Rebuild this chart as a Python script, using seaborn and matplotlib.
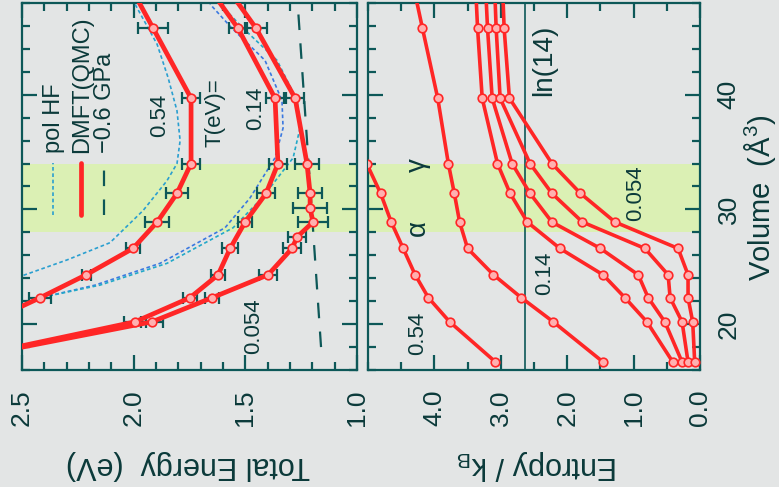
import matplotlib
matplotlib.use("Agg")
import matplotlib.pyplot as plt
from matplotlib.ticker import MultipleLocator, FormatStrFormatter
import pandas as pd
import seaborn as sns

# ---------------- data ----------------
# Total energy (eV) vs volume (A^3), DMFT(QMC), three temperatures
vol_T054 = [52.0, 45.8, 39.7, 34.0, 31.4, 30.1, 28.9, 27.6, 26.6, 24.3, 22.3, 20.2, 16.7]
energy_T054 = [1.68, 1.452, 1.277, 1.224, 1.210, 1.210, 1.197, 1.268, 1.291, 1.398, 1.649, 1.918, 2.84]
err_T054 = [0, 0.05, 0.04, 0.054, 0.054, 0.077, 0.067, 0.04, 0.04, 0.04, 0.03, 0.05, 0]

vol_T14 = [52.0, 45.8, 39.7, 34.0, 31.4, 28.9, 26.6, 24.3, 22.3, 20.2, 16.7]
energy_T14 = [1.76, 1.533, 1.367, 1.354, 1.407, 1.501, 1.568, 1.622, 1.748, 1.994, 2.84]
err_T14 = [0, 0.04, 0.04, 0.04, 0.04, 0.03, 0.035, 0.03, 0.03, 0.05, 0]

vol_T54 = [52.0, 45.8, 39.7, 34.0, 31.4, 28.9, 26.6, 24.3, 22.3, 20.2]
energy_T54 = [2.086, 1.913, 1.743, 1.743, 1.806, 1.895, 2.003, 2.213, 2.419, 2.65]
err_T54 = [0, 0.067, 0.04, 0.04, 0.05, 0.055, 0.03, 0.02, 0.05, 0]

# polarized Hartree-Fock curves
vol_hf1 = [47.9, 44.4, 41.5, 38.6, 36.0, 34.0, 32.5, 29.9, 27.1, 25.6, 24.3, 23.5]
energy_hf1 = [1.994, 1.895, 1.846, 1.806, 1.792, 1.806, 1.851, 1.958, 2.106, 2.298, 2.487, 2.60]
vol_hf2 = [47.9, 45.8, 43.0, 39.5, 37.1, 34.5, 31.0, 28.4, 25.3, 23.4, 22.35]
energy_hf2 = [1.658, 1.560, 1.412, 1.336, 1.331, 1.367, 1.479, 1.591, 1.882, 2.173, 2.406]
vol_hf3 = [47.9, 45.8, 43.0, 39.5, 37.1, 34.5, 31.0, 28.4, 25.3, 23.4, 22.35]
energy_hf3 = [1.613, 1.510, 1.358, 1.268, 1.255, 1.286, 1.425, 1.555, 1.851, 2.151, 2.406]

# -0.6 GPa line
vol_p = [18.0, 47.5]
energy_p = [1.161, 1.264]

# Entropy / k_B vs volume
vol_S = [52.0, 45.8, 39.7, 34.0, 31.4, 28.9, 26.6, 24.3, 22.3, 20.2, 16.7]
entropy_T14 = [4.41, 4.18, 3.95, 3.79, 3.70, 3.62, 3.50, 3.11, 2.69, 2.21, 1.46]
entropy_c1 = [3.40, 3.35, 3.28, 3.05, 2.86, 2.60, 2.11, 1.46, 1.13, 0.80, 0.41]
entropy_c2 = [3.25, 3.20, 3.13, 2.83, 2.56, 2.23, 1.50, 0.93, 0.78, 0.53, 0.27]
entropy_c3 = [3.11, 3.07, 3.01, 2.56, 2.23, 1.77, 0.83, 0.48, 0.45, 0.27, 0.18]
entropy_T054 = [2.99, 2.95, 2.87, 2.23, 1.80, 1.28, 0.33, 0.18, 0.18, 0.11, 0.08]
vol_S54 = [39.7, 34.0, 31.4, 28.9, 26.6, 24.3, 22.3, 20.2, 16.7]
entropy_T54 = [5.35, 5.02, 4.81, 4.65, 4.47, 4.29, 4.09, 3.77, 3.08]

ln14 = 2.639
band = (28.0, 34.0)

energy_ticks = [2.5, 2.0, 1.5, 1.0]
entropy_ticks = [4.0, 3.0, 2.0, 1.0, 0.0]
volume_ticks = [20, 30, 40]

# ---------------- style ----------------
sns.set_theme(style="ticks")
plt.rcParams["font.family"] = ["Liberation Sans", "DejaVu Sans"]
plt.rcParams["mathtext.fontset"] = "custom"
plt.rcParams["mathtext.rm"] = "Liberation Sans"
plt.rcParams["mathtext.it"] = "Liberation Sans"

BG = "#e3e5e5"
TEAL = "#0d5858"
TXT = "#0b3a3a"
RED = "#ff2626"
GREEN = "#dbf0b4"

fig = plt.figure(figsize=(7.79, 4.87), dpi=100, facecolor=BG)
axE = fig.add_axes([22 / 779, 117 / 487, 335 / 779, 367 / 487])
axS = fig.add_axes([368 / 779, 117 / 487, 332 / 779, 367 / 487])

for ax in (axE, axS):
    ax.set_facecolor(BG)
    ax.axhspan(*band, color=GREEN, lw=0, zorder=0)
    for s in ax.spines.values():
        s.set_color(TEAL)
        s.set_linewidth(1.6)
    ax.set_ylim(16, 48)
    ax.yaxis.set_major_locator(plt.FixedLocator(volume_ticks))
    ax.yaxis.set_minor_locator(MultipleLocator(2))
    ax.tick_params(which="both", direction="in", top=True, bottom=True,
                   left=True, right=True, color=TEAL, width=1.6,
                   labelcolor=TXT, labelsize=19)
    ax.tick_params(which="major", length=11)
    ax.tick_params(which="minor", length=6)
    ax.tick_params(axis="x", labelrotation=90, pad=14)

mk = dict(marker="o", markersize=6.2, markerfacecolor="#ffb0b0",
          markeredgecolor=RED, markeredgewidth=1.2)

# ---------------- energy panel ----------------
axE.set_xlim(2.5, 1.0)
for xs, ys, c in [(energy_hf1, vol_hf1, "#2a9fd0"), (energy_hf2, vol_hf2, "#3a78e0"),
                  (energy_hf3, vol_hf3, "#22a8c8")]:
    sns.lineplot(x=xs, y=ys, orient="y", ax=axE, color=c, lw=1.2,
                 linestyle=(0, (2.2, 1.6)), zorder=2)
sns.lineplot(x=energy_p, y=vol_p, orient="y", ax=axE, color=TEAL, lw=1.6,
             linestyle=(0, (7, 6)), zorder=2)

for e, v, err in [(energy_T054, vol_T054, err_T054), (energy_T14, vol_T14, err_T14),
                  (energy_T54, vol_T54, err_T54)]:
    axE.errorbar(e, v, xerr=err, fmt="none", ecolor=TEAL, elinewidth=1.6,
                 capsize=4, capthick=1.6, zorder=3)
    sns.lineplot(x=e, y=v, orient="y", ax=axE, color=RED, lw=3.4, zorder=4, **mk)

axE.xaxis.set_major_locator(plt.FixedLocator(energy_ticks))
axE.xaxis.set_major_formatter(FormatStrFormatter("%.1f"))
axE.xaxis.set_minor_locator(MultipleLocator(0.1))
axE.tick_params(axis="y", labelleft=False, labelright=False)
axE.set_ylabel("")
axE.set_xlabel("Total Energy  (eV)", rotation=180, fontsize=22, color=TXT)
axE.xaxis.label.set_va("center")
axE.xaxis.set_label_coords(0.496, -0.259)

# legend (rotated like the figure)
leg_items = [("pol HF", 0.0955, dict(color="#2a9fd0", lw=1.2, ls=(0, (2.2, 1.6)))),
             ("DMFT(QMC)", 0.179, dict(color=RED, lw=3.4, ls="-")),
             ("\u22120.6 GPa", 0.248, dict(color=TEAL, lw=1.6, ls=(0, (7, 6))))]
for label, xf, style in leg_items:
    axE.text(xf, 0.591, label, rotation=90, ha="center", va="bottom",
             fontsize=17, color=TXT, transform=axE.transAxes)
    axE.plot([xf - 0.004, xf - 0.004], [0.422, 0.564], transform=axE.transAxes, **style)

ann = dict(rotation=90, ha="center", va="center", color=TXT, fontsize=16)
axE.text(0.412, 0.695, "0.54", transform=axE.transAxes, **ann)
axE.text(0.576, 0.700, "T(eV)=", transform=axE.transAxes, **ann)
axE.text(0.696, 0.714, "0.14", transform=axE.transAxes, **ann)
axE.text(0.690, 0.120, "0.054", transform=axE.transAxes, **ann)

# ---------------- entropy panel ----------------
axS.set_xlim(5.0, 0.0)
axS.axvline(ln14, color=TEAL, lw=1.2, zorder=1)
for s in [entropy_T14, entropy_c1, entropy_c2, entropy_c3, entropy_T054]:
    sns.lineplot(x=s, y=vol_S, orient="y", ax=axS, color=RED, lw=2.6, zorder=4, **mk)
sns.lineplot(x=entropy_T54, y=vol_S54, orient="y", ax=axS, color=RED, lw=2.6, zorder=4, **mk)

axS.xaxis.set_major_locator(plt.FixedLocator(entropy_ticks))
axS.xaxis.set_major_formatter(FormatStrFormatter("%.1f"))
axS.xaxis.set_minor_locator(MultipleLocator(0.5))
axS.tick_params(axis="y", labelleft=False, labelright=True, labelrotation=90, pad=12)
axS.yaxis.set_major_formatter(FormatStrFormatter("%d"))
plt.setp(axS.get_yticklabels(), va="center")
axS.set_xlabel("Entropy / k$_B$", rotation=180, fontsize=22, color=TXT)
axS.xaxis.label.set_va("center")
axS.xaxis.set_label_coords(0.509, -0.259)
axS.yaxis.set_label_position("right")
axS.set_ylabel("Volume  (\u00c5$^3$)", rotation=90, fontsize=21, color=TXT)
axS.yaxis.label.set_va("center")
axS.yaxis.set_label_coords(1.182, 0.469)

axS.text(0.151, 0.559, "\u03b3", transform=axS.transAxes, rotation=90, ha="center",
         va="center", color=TXT, fontsize=20)
axS.text(0.151, 0.387, "\u03b1", transform=axS.transAxes, rotation=90, ha="center",
         va="center", color=TXT, fontsize=20)
axS.text(0.148, 0.101, "0.54", transform=axS.transAxes, **ann)
axS.text(0.533, 0.264, "0.14", transform=axS.transAxes, **ann)
axS.text(0.807, 0.482, "0.054", transform=axS.transAxes, **ann)
axS.text(0.530, 0.845, "ln(14)", transform=axS.transAxes, rotation=90, ha="center",
         va="center", color=TXT, fontsize=20)

fig.savefig("out.png", dpi=100, facecolor=BG)
